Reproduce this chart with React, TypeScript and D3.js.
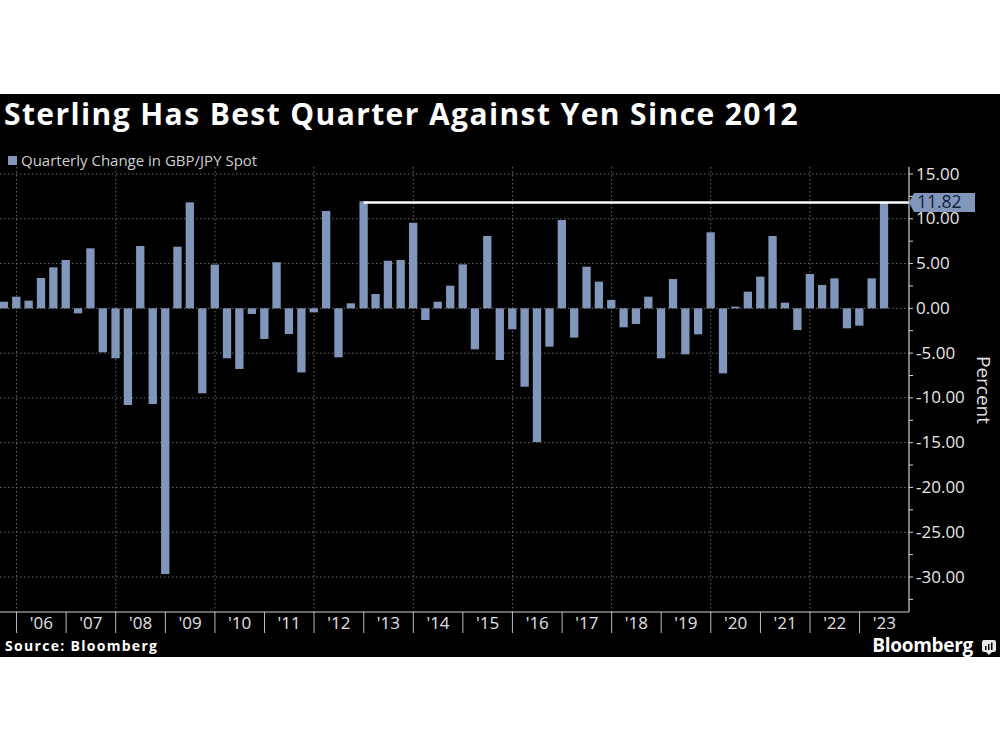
import React from "react";
import * as d3 from "d3";

// Quarter-end dates (category axis)
const quarterEnds: string[] = [
  "2005-09-30", "2005-12-30",
  "2006-03-31", "2006-06-30", "2006-09-29", "2006-12-29",
  "2007-03-30", "2007-06-29", "2007-09-28", "2007-12-31",
  "2008-03-31", "2008-06-30", "2008-09-30", "2008-12-31",
  "2009-03-31", "2009-06-30", "2009-09-30", "2009-12-31",
  "2010-03-31", "2010-06-30", "2010-09-30", "2010-12-31",
  "2011-03-31", "2011-06-30", "2011-09-30", "2011-12-30",
  "2012-03-30", "2012-06-29", "2012-09-28", "2012-12-31",
  "2013-03-29", "2013-06-28", "2013-09-30", "2013-12-31",
  "2014-03-31", "2014-06-30", "2014-09-30", "2014-12-31",
  "2015-03-31", "2015-06-30", "2015-09-30", "2015-12-31",
  "2016-03-31", "2016-06-30", "2016-09-30", "2016-12-30",
  "2017-03-31", "2017-06-30", "2017-09-29", "2017-12-29",
  "2018-03-30", "2018-06-29", "2018-09-28", "2018-12-31",
  "2019-03-29", "2019-06-28", "2019-09-30", "2019-12-31",
  "2020-03-31", "2020-06-30", "2020-09-30", "2020-12-31",
  "2021-03-31", "2021-06-30", "2021-09-30", "2021-12-31",
  "2022-03-31", "2022-06-30", "2022-09-30", "2022-12-30",
  "2023-03-31", "2023-06-30",
];

// Quarterly change in GBP/JPY spot (%)
const quarterlyChange: number[] = [
  0.74, 1.3,
  0.86, 3.39, 4.58, 5.4,
  -0.56, 6.7, -4.91, -5.58,
  -10.79, 6.96, -10.68, -29.67,
  6.88, 11.83, -9.49, 4.88,
  -5.58, -6.77, -0.63, -3.42,
  5.14, -2.87, -7.15, -0.45,
  10.87, -5.47, 0.56, 11.95,
  1.6, 5.32, 5.4, 9.56,
  -1.3, 0.74, 2.53, 4.91,
  -4.58, 8.08, -5.77, -2.34,
  -8.75, -14.93, -4.28, 9.86,
  -3.27, 4.65, 2.98, 0.93,
  -2.12, -1.75, 1.3, -5.58,
  3.27, -5.14, -2.9, 8.49,
  -7.26, 0.19, 1.86, 3.54,
  8.08, 0.63, -2.42, 3.83,
  2.61, 3.35, -2.23, -1.94,
  3.35, 11.82,
];

const yearLabels: string[] = [
  "'06", "'07", "'08", "'09", "'10", "'11", "'12", "'13", "'14",
  "'15", "'16", "'17", "'18", "'19", "'20", "'21", "'22", "'23",
];
const years: number[] = [
  2006, 2007, 2008, 2009, 2010, 2011, 2012, 2013, 2014,
  2015, 2016, 2017, 2018, 2019, 2020, 2021, 2022, 2023,
];
const gridYears: number[] = [2006, 2008, 2010, 2012, 2014, 2016, 2018, 2020, 2022];
const majorTicks: number[] = [15, 10, 5, 0, -5, -10, -15, -20, -25, -30];
const minorTicks: number[] = [12.5, 7.5, 2.5, -2.5, -7.5, -12.5, -17.5, -22.5, -27.5, -32.5];

const highlightValue = 11.82;
const highlightFromIndex = 29; // 2012 Q4

const TITLE = "Sterling Has Best Quarter Against Yen Since 2012";
const LEGEND = "Quarterly Change in GBP/JPY Spot";
const SOURCE = "Source: Bloomberg";

const BAR = "#8097bb";
const FONT = "'Open Sans', 'Noto Sans', sans-serif";

export default function App() {
  const parse = d3.timeParse("%Y-%m-%d");
  const dates = quarterEnds.map((d) => parse(d) as Date);

  const plotLeft = 0;
  const plotRight = 909;
  const plotTop = 167;
  const plotBottom = 612;

  const x = d3
    .scaleTime()
    .domain([new Date(2005, 8, 1), new Date(2023, 11, 31)])
    .range([plotLeft, plotRight]);
  const y = d3.scaleLinear().domain([15, -30]).range([174, 577]);

  const barW = 8.3;
  const hy = y(highlightValue);
  const fmt = d3.format(".2f");

  return (
    <div style={{ position: "absolute", left: 0, top: 0 }}>
      <svg width={1000} height={750} style={{ display: "block", background: "#fff" }}>
        <rect x={0} y={94} width={1000} height={563} fill="#000" />

        <text x={4} y={125} fill="#fff" fontFamily={FONT} fontWeight={700} fontSize={30} letterSpacing={1.4}>
          {TITLE}
        </text>

        <rect x={8} y={156} width={9} height={9} fill={BAR} />
        <text x={21} y={166} fill="#cfcfcf" fontFamily={FONT} fontSize={15}>
          {LEGEND}
        </text>

        {/* horizontal grid */}
        {majorTicks.map((t) => (
          <line
            key={"hg" + t}
            x1={plotLeft}
            x2={plotRight}
            y1={y(t)}
            y2={y(t)}
            stroke="#6a6a6a"
            strokeWidth={1}
            strokeDasharray="1.5,2.5"
          />
        ))}
        {/* vertical grid */}
        {gridYears.map((yr) => (
          <line
            key={"vg" + yr}
            x1={x(new Date(yr, 0, 1))}
            x2={x(new Date(yr, 0, 1))}
            y1={plotTop}
            y2={plotBottom}
            stroke="#6a6a6a"
            strokeWidth={1}
            strokeDasharray="1.5,2.5"
          />
        ))}

        {/* bars */}
        {quarterlyChange.map((v, i) => {
          const cx = x(dates[i]);
          const y0 = y(0);
          const y1 = y(v);
          return (
            <rect
              key={"b" + i}
              x={cx - barW / 2}
              width={barW}
              y={Math.min(y0, y1)}
              height={Math.max(0.8, Math.abs(y1 - y0))}
              fill={BAR}
            />
          );
        })}

        {/* highlight line */}
        <line
          x1={x(dates[highlightFromIndex])}
          x2={plotRight}
          y1={hy}
          y2={hy}
          stroke="#fff"
          strokeWidth={2.5}
        />

        {/* x axis */}
        <line x1={plotLeft} x2={plotRight} y1={plotBottom} y2={plotBottom} stroke="#d0d0d0" strokeWidth={1.2} />
        {years.map((yr) => (
          <line
            key={"xs" + yr}
            x1={x(new Date(yr, 0, 1))}
            x2={x(new Date(yr, 0, 1))}
            y1={plotBottom}
            y2={633}
            stroke="#bdbdbd"
            strokeWidth={1}
          />
        ))}
        {years.map((yr, i) => (
          <text
            key={"xl" + yr}
            x={x(new Date(yr, 6, 2))}
            y={624}
            fill="#e0e0e0"
            fontFamily={FONT}
            fontSize={17}
            textAnchor="middle"
            dominantBaseline="middle"
          >
            {yearLabels[i]}
          </text>
        ))}

        {/* y axis */}
        <line x1={plotRight} x2={plotRight} y1={plotTop} y2={plotBottom} stroke="#d0d0d0" strokeWidth={1.2} />
        {[...majorTicks, ...minorTicks].map((t) => (
          <line key={"yt" + t} x1={plotRight} x2={plotRight + 4} y1={y(t)} y2={y(t)} stroke="#d0d0d0" strokeWidth={1} />
        ))}
        {majorTicks.map((t) => (
          <text
            key={"yl" + t}
            x={916}
            y={y(t) + 1}
            fill="#e6e6e6"
            fontFamily={FONT}
            fontSize={17}
            dominantBaseline="middle"
          >
            {t < 0 ? "-" + fmt(-t) : fmt(t)}
          </text>
        ))}
        <text
          transform="translate(982,390) rotate(90)"
          fill="#e0e0e0"
          fontFamily={FONT}
          fontSize={19}
          textAnchor="middle"
          dominantBaseline="middle"
        >
          Percent
        </text>

        {/* value pennant */}
        <path
          d={`M${plotRight},${hy} L${plotRight + 5},${hy - 9.5} H975 V${hy + 9.5} H${plotRight + 5} Z`}
          fill={BAR}
        />
        <text
          x={917}
          y={hy + 1}
          fill="#14213b"
          fontFamily={FONT}
          fontSize={17.5}
          dominantBaseline="middle"
        >
          {fmt(highlightValue)}
        </text>

        {/* footer */}
        <text x={5} y={651} fill="#fff" fontFamily={FONT} fontWeight={700} fontSize={14} letterSpacing={1.3}>
          {SOURCE}
        </text>
        <text x={973} y={652} fill="#fff" fontFamily={FONT} fontWeight={700} fontSize={19} textAnchor="end" letterSpacing={-0.3}>
          Bloomberg
        </text>
        <rect x={982} y={640} width={14} height={12} rx={2} fill="#e8e8e8" />
        <path d="M986,652 L989,655 L992,652 Z" fill="#e8e8e8" />
        <rect x={985} y={646} width={1.5} height={4} fill="#000" />
        <rect x={988} y={644} width={1.5} height={6} fill="#000" />
        <rect x={991} y={642.5} width={1.5} height={7.5} fill="#000" />
      </svg>
    </div>
  );
}
